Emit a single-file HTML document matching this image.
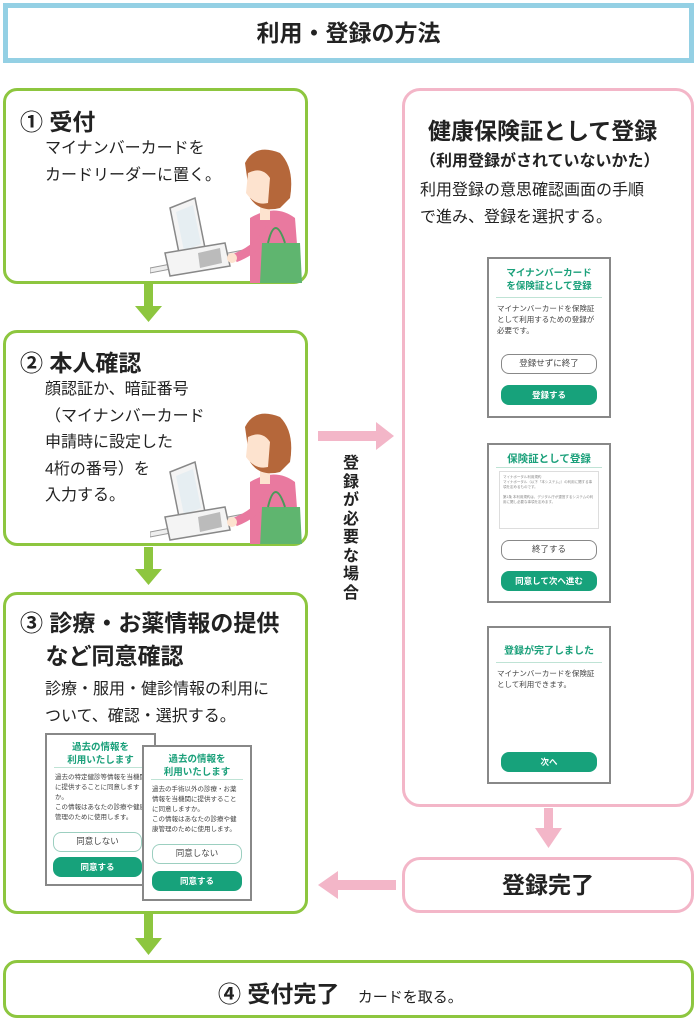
<!DOCTYPE html>
<html><head><meta charset="utf-8"><style>
*{margin:0;padding:0;box-sizing:border-box}
body{width:697px;height:1024px;background:#fff;position:relative;overflow:hidden;font-family:"Liberation Sans","Noto Sans CJK JP",sans-serif;color:#222}
.a{position:absolute}
.g{border:3px solid #8dc63f;border-radius:14px;background:#fff}
.p{border:3px solid #f3b6c8;border-radius:18px;background:#fff}
.t{font-weight:bold;font-size:23px}
.b{font-size:16px;line-height:26.5px}
.ph{position:absolute;border:2px solid #888;background:#fff;overflow:hidden}
.ph .h{color:#1aa07a;font-weight:bold;text-align:center;font-size:9.5px;line-height:13px;border-bottom:1px solid #bfe3d5;margin:0 7px}
.ph .x{font-size:7.5px;line-height:11px;color:#444;padding:5px 8px}
.bo{position:absolute;left:12px;right:12px;height:20px;border:1.5px solid #888;border-radius:8px;font-size:8.5px;text-align:center;line-height:17px;color:#444}
.bf{position:absolute;left:12px;right:12px;height:20px;background:#17a27b;border-radius:8px;font-size:8.5px;text-align:center;line-height:20px;color:#fff;font-weight:bold}
</style></head><body>
<div class="a" style="left:3px;top:3px;width:691px;height:60px;border:5px solid #94d0e4;text-align:center;font-weight:bold;font-size:23px;line-height:50px">利用・登録の方法</div>

<svg class="a" style="left:0;top:0" width="697" height="1024">
<defs>
<g id="wm">
<path d="M0 120 L130 95 L130 100 L0 125Z" fill="#eee" stroke="#999"/>
<path d="M20 60 L45 50 L55 100 L30 110Z" fill="#f4f4f4" stroke="#888" stroke-width="1.5"/>
<path d="M26 64 L43 57 L51 96 L34 103Z" fill="#e6eef2"/>
<path d="M15 105 L75 95 L80 118 L20 128Z" fill="#f4f4f4" stroke="#888" stroke-width="1.5"/>
<path d="M48 105 L70 100 L72 115 L50 120Z" fill="#bbb"/>
<path d="M100 70 Q125 55 145 70 L150 135 L100 135Z" fill="#e9799f"/>
<path d="M110 55 L120 55 L120 72 L110 72Z" fill="#fde3cf"/>
<path d="M95 15 Q105 -5 130 5 Q145 20 140 50 L130 60 Q110 65 100 50Z" fill="#b5673a"/>
<path d="M98 25 Q112 18 120 30 L118 55 Q105 58 96 45Z" fill="#fde3cf"/>
<path d="M120 80 Q110 100 85 110" stroke="#e9799f" stroke-width="9" fill="none"/>
<circle cx="82" cy="110" r="5" fill="#fde3cf"/>
<path d="M112 95 L150 95 L152 135 L110 135Z" fill="#5fb56f"/>
<path d="M118 95 Q125 65 135 95" stroke="#4a9a5a" stroke-width="2" fill="none"/>
</g>
</defs>
<g fill="#8dc63f"><rect x="144" y="283" width="9" height="25"/><path d="M135 306 L162 306 L148.5 322Z"/>
<rect x="144" y="547" width="9" height="24"/><path d="M135 569 L162 569 L148.5 585Z"/>
<rect x="144" y="914" width="9" height="26"/><path d="M135 938 L162 938 L148.5 955Z"/></g>
<g fill="#f3b6c8"><rect x="318" y="431" width="60" height="10"/><path d="M376 422 L394 436 L376 450Z"/>
<rect x="544" y="808" width="9" height="22"/><path d="M535 828 L562 828 L548.5 848Z"/>
<rect x="336" y="880" width="60" height="10"/><path d="M338 871 L318 885 L338 899Z"/></g>
<g fill="#e8562a"><path d="M530 423 L570 423 L550 437Z"/><path d="M530 606 L570 606 L550 620Z"/></g>
</svg>

<div class="a g" style="left:3px;top:88px;width:305px;height:196px"></div>
<div class="a t" style="left:20px;top:103px">① 受付</div>
<div class="a b" style="left:45px;top:136px">マイナンバーカードを<br>カードリーダーに置く。</div>
<svg class="a" style="left:150px;top:148px" width="155" height="135"><use href="#wm"/></svg>

<div class="a g" style="left:3px;top:330px;width:305px;height:216px"></div>
<div class="a t" style="left:20px;top:344px">② 本人確認</div>
<div class="a b" style="left:45px;top:377px">顔認証か、暗証番号<br>（マイナンバーカード<br>申請時に設定した<br>4桁の番号）を<br>入力する。</div>
<svg class="a" style="left:150px;top:412px" width="155" height="132"><use href="#wm"/></svg>

<div class="a g" style="left:3px;top:592px;width:305px;height:322px"></div>
<div class="a t" style="left:20px;top:607px;line-height:33px">③ 診療・お薬情報の提供<br>&nbsp;&nbsp;&nbsp;&nbsp;など同意確認</div>
<div class="a b" style="left:45px;top:677px">診療・服用・健診情報の利用に<br>ついて、確認・選択する。</div>
<div class="ph" style="left:45px;top:733px;width:111px;height:153px"><div class="h" style="margin-top:6px">過去の情報を<br>利用いたします</div><div class="x" style="font-size:6.5px;line-height:10px;padding-right:4px">過去の特定健診等情報を当機関に提供することに同意しますか。<br>この情報はあなたの診療や健康管理のために使用します。</div><div class="bo" style="left:6px;top:97px;border-color:#9ccfc0">同意しない</div><div class="bf" style="left:6px;top:122px">同意する</div></div>
<div class="ph" style="left:142px;top:745px;width:110px;height:156px"><div class="h" style="margin-top:6px">過去の情報を<br>利用いたします</div><div class="x" style="font-size:6.5px;line-height:10px">過去の手術以外の診療・お薬情報を当機関に提供することに同意しますか。<br>この情報はあなたの診療や健康管理のために使用します。</div><div class="bo" style="left:8px;right:8px;top:97px;border-color:#9ccfc0">同意しない</div><div class="bf" style="left:8px;right:8px;top:124px">同意する</div></div>

<div class="a g" style="left:3px;top:960px;width:691px;height:58px"></div>
<div class="a t" style="left:218px;top:975px">④ 受付完了 <span style="font-weight:normal;font-size:15px;margin-left:12px">カードを取る。</span></div>

<div class="a p" style="left:402px;top:88px;width:292px;height:719px"></div>
<div class="a t" style="left:428px;top:112px">健康保険証として登録</div>
<div class="a" style="left:420px;top:147px;font-weight:bold;font-size:16px">（利用登録がされていないかた）</div>
<div class="a b" style="left:420px;top:178px">利用登録の意思確認画面の手順<br>で進み、登録を選択する。</div>
<div class="a" style="left:340px;top:455px;width:22px;font-weight:bold;font-size:16px;line-height:18.5px;text-align:center">登<br>録<br>が<br>必<br>要<br>な<br>場<br>合</div>

<div class="ph" style="left:487px;top:257px;width:124px;height:161px"><div class="h" style="margin-top:8px;padding-bottom:4px">マイナンバーカード<br>を保険証として登録</div><div class="x">マイナンバーカードを保険証<br>として利用するための登録が<br>必要です。</div><div class="bo" style="top:95px">登録せずに終了</div><div class="bf" style="top:126px">登録する</div></div>
<div class="ph" style="left:487px;top:443px;width:124px;height:160px"><div class="h" style="margin-top:6px;font-size:10.5px;line-height:16px">保険証として登録</div><div class="a" style="left:10px;right:10px;top:26px;height:58px;border:1px solid #ddd;font-size:3.5px;color:#888;padding:3px;line-height:5px">マイナポータル利用規約<br>マイナポータル（以下「本システム」）の利用に関する事項を定めるものです。<br><br>第1条 本利用規約は、デジタル庁が運営するシステムの利用に関し必要な事項を定めます。</div><div class="bo" style="top:95px">終了する</div><div class="bf" style="top:126px">同意して次へ進む</div></div>
<div class="ph" style="left:487px;top:626px;width:124px;height:158px"><div class="h" style="margin-top:16px;font-size:10px;line-height:16px;padding-bottom:2px">登録が完了しました</div><div class="x">マイナンバーカードを保険証<br>として利用できます。</div><div class="bf" style="top:124px">次へ</div></div>

<div class="a p" style="left:402px;top:857px;width:292px;height:56px;text-align:center;font-weight:bold;font-size:23px;line-height:50px">登録完了</div>
</body></html>
